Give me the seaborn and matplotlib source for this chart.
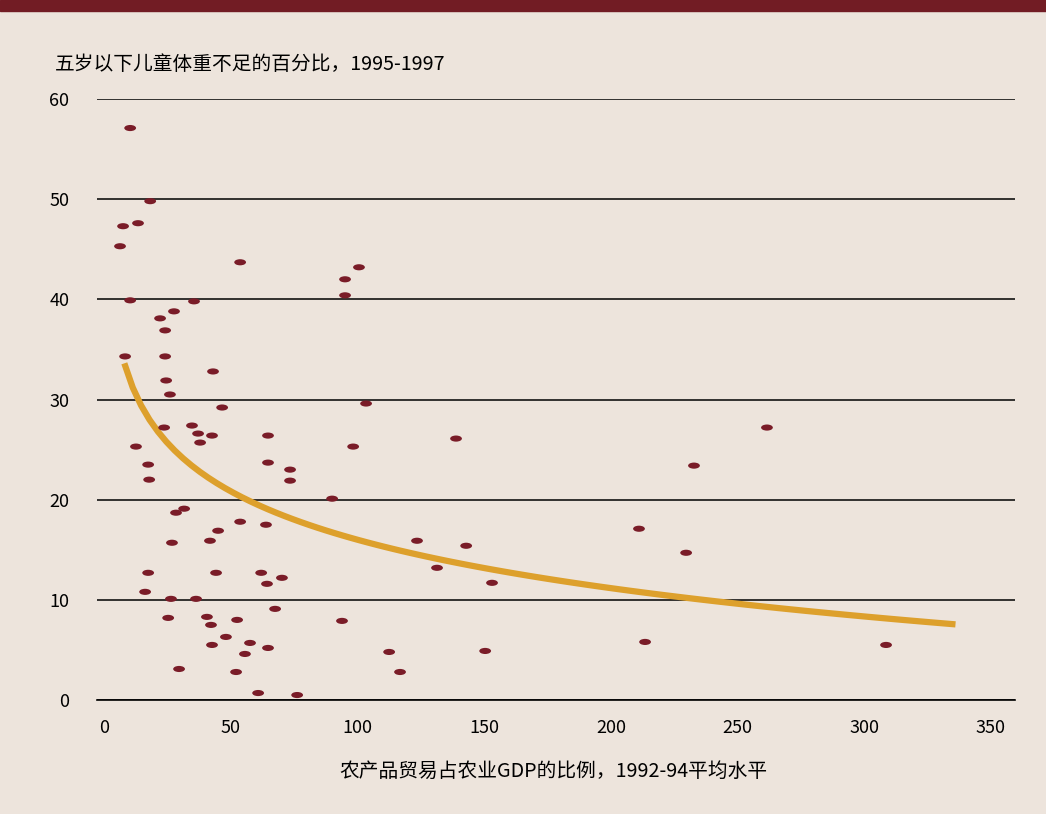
import pandas as pd
import seaborn as sns
import matplotlib.pyplot as plt
from matplotlib.path import Path
from matplotlib.transforms import Affine2D
from matplotlib.patches import Rectangle

# Agricultural trade share of agricultural GDP (%), 1992-94 average
trade_share = [10.3, 18.2, 13.4, 7.5, 6.3, 10.3, 35.5, 53.7, 95.1, 100.6,
               95.1, 27.6, 22.1, 24.1, 8.3, 24.1, 24.5, 43.0, 26.0, 46.6,
               103.4, 23.7, 34.7, 37.1, 42.6, 64.7, 37.9, 12.6, 98.3, 138.9,
               261.6, 64.7, 17.4, 73.4, 17.8, 73.4, 232.8, 90.0, 28.4, 31.6,
               53.7, 63.9, 45.0, 211.1, 41.8, 26.8, 123.5, 142.9, 229.7, 131.4,
               17.4, 44.2, 62.0, 70.2, 64.3, 153.1, 16.2, 26.4, 36.3, 67.5,
               25.3, 40.6, 52.5, 93.9, 42.2, 48.1, 57.6, 42.6, 213.5, 64.7,
               55.6, 112.5, 150.4, 308.6, 29.6, 52.1, 116.8, 60.8, 76.2]

# Children under five who are underweight (%), 1995-1997
underweight = [57.1, 49.8, 47.6, 47.3, 45.3, 39.9, 39.8, 43.7, 42.0, 43.2,
               40.4, 38.8, 38.1, 36.9, 34.3, 34.3, 31.9, 32.8, 30.5, 29.2,
               29.6, 27.2, 27.4, 26.6, 26.4, 26.4, 25.7, 25.3, 25.3, 26.1,
               27.2, 23.7, 23.5, 23.0, 22.0, 21.9, 23.4, 20.1, 18.7, 19.1,
               17.8, 17.5, 16.9, 17.1, 15.9, 15.7, 15.9, 15.4, 14.7, 13.2,
               12.7, 12.7, 12.7, 12.2, 11.6, 11.7, 10.8, 10.1, 10.1, 9.1,
               8.2, 8.3, 8.0, 7.9, 7.5, 6.3, 5.7, 5.5, 5.8, 5.2,
               4.6, 4.8, 4.9, 5.5, 3.1, 2.8, 2.8, 0.7, 0.5]

x_ticks = [0, 50, 100, 150, 200, 250, 300, 350]
y_ticks = [0, 10, 20, 30, 40, 50, 60]

df = pd.DataFrame({'trade': trade_share, 'underweight': underweight})

bg = '#EDE4DC'
dark_red = '#7A1C28'
gold = '#DDA02C'

sns.set_style('white')
plt.rcParams['font.family'] = ['Noto Sans CJK SC', 'DejaVu Sans']
plt.rcParams['text.color'] = 'black'
plt.rcParams['xtick.color'] = 'black'
plt.rcParams['ytick.color'] = 'black'

fig = plt.figure(figsize=(10.46, 8.14), dpi=100, facecolor=bg)
ax = fig.add_axes([0.0927, 0.140, 0.8777, 0.7384])
ax.set_facecolor(bg)

# log trend fitted by seaborn, spanning 8..336 like the original
ax.set_xlim(8, 336)
sns.regplot(data=df, x='trade', y='underweight', logx=True, truncate=False,
            ci=None, scatter=False, ax=ax,
            line_kws=dict(color=gold, lw=4.5, solid_capstyle='butt', zorder=2))

# flat ellipse markers
ellipse = Path.unit_circle().transformed(Affine2D().scale(1, 0.52))
sns.scatterplot(data=df, x='trade', y='underweight', marker=ellipse, s=72,
                color=dark_red, edgecolor='none', linewidth=0, zorder=3, ax=ax)

ax.set_xlim(-2.8, 359.5)
ax.set_ylim(0, 60)
ax.set_xticks(x_ticks)
ax.set_yticks(y_ticks)
ax.set_xlabel('')
ax.set_ylabel('')

ax.yaxis.grid(True, color='black', lw=1.1, zorder=1)
ax.xaxis.grid(False)
ax.set_axisbelow(True)
for side in ['top', 'right', 'left']:
    ax.spines[side].set_visible(False)
ax.spines['bottom'].set_color('black')
ax.spines['bottom'].set_linewidth(1.2)

ax.tick_params(axis='x', direction='out', length=9, width=1.2, color='black',
               labelcolor='black', labelsize=13, pad=5)
ax.tick_params(axis='y', length=0, labelcolor='black', labelsize=13, pad=20)

fig.text(55 / 1046, 1 - 65 / 814, '五岁以下儿童体重不足的百分比，1995-1997',
         fontsize=14.2, va='center', ha='left', color='black')
fig.text(553 / 1046, 1 - 771 / 814, '农产品贸易占农业GDP的比例，1992-94平均水平',
         fontsize=14.2, va='center', ha='center', color='black')

# dark red band along the top
fig.patches.append(Rectangle((0, 1 - 10.5 / 814), 1, 10.5 / 814,
                             transform=fig.transFigure, color='#721C24'))

fig.savefig('out.png', dpi=100, facecolor=bg)
